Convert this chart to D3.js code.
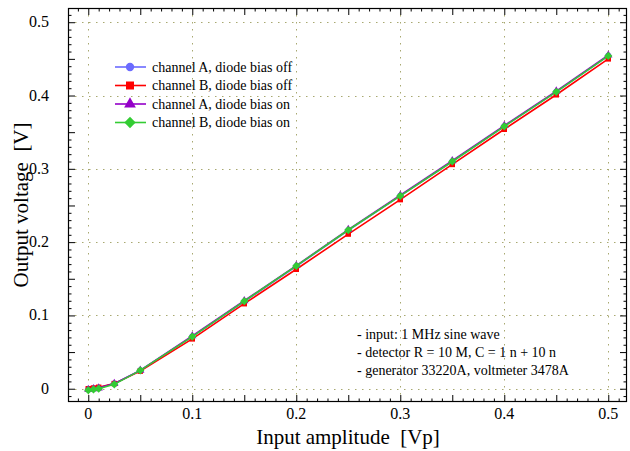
<!DOCTYPE html>
<html>
<head>
<meta charset="utf-8">
<script src="https://cdn.jsdelivr.net/npm/d3@7"></script>
<style>
  body { margin: 0; background: #fff; }
  svg { display: block; }
  svg text { font-family: "Liberation Serif", "DejaVu Serif", serif; }
</style>
</head>
<body>
<script>
// input amplitude [Vp]
const amplitude = [0, 0.005, 0.01, 0.025, 0.05, 0.1, 0.15, 0.2, 0.25, 0.3, 0.35, 0.4, 0.45, 0.5];

// output voltage [V]
const chAoff = [-0.001, 0.000, 0.001, 0.007, 0.025, 0.071, 0.119, 0.167, 0.216, 0.263, 0.310, 0.358, 0.405, 0.454];
const chBoff = [0.000, 0.001, 0.002, 0.007, 0.024, 0.068, 0.116, 0.163, 0.211, 0.258, 0.306, 0.354, 0.401, 0.450];
const chAon = [-0.001, 0.000, 0.001, 0.007, 0.025, 0.072, 0.120, 0.168, 0.217, 0.264, 0.311, 0.359, 0.406, 0.455];
const chBon = [-0.002, -0.001, 0.000, 0.006, 0.025, 0.071, 0.1195, 0.1675, 0.2165, 0.263, 0.310, 0.358, 0.405, 0.454];

const seriesNames = ['channel A, diode bias off', 'channel B, diode bias off', 'channel A, diode bias on', 'channel B, diode bias on'];
const notes = ['- input: 1 MHz sine wave', '- detector R = 10 M, C = 1 n + 10 n', '- generator 33220A, voltmeter 3478A'];

const xLabels = [0, 0.1, 0.2, 0.3, 0.4, 0.5];
const yLabels = [0, 0.1, 0.2, 0.3, 0.4, 0.5];

const width = 630, height = 451;
const mLeft = 68, mRight = 627, mTop = 8, mBottom = 402;

const diamond = { draw(ctx, size) { const r = Math.sqrt(size / 2); ctx.moveTo(0, -r); ctx.lineTo(r, 0); ctx.lineTo(0, r); ctx.lineTo(-r, 0); ctx.closePath(); } };

const series = [
  { name: seriesNames[0], values: chAoff, color: '#6b6bff', symbol: d3.symbolCircle, size: 30, lsize: 55 },
  { name: seriesNames[1], values: chBoff, color: '#ff0000', symbol: d3.symbolSquare, size: 30, lsize: 64 },
  { name: seriesNames[2], values: chAon, color: '#9400c8', symbol: d3.symbolTriangle, size: 30, lsize: 60 },
  { name: seriesNames[3], values: chBon, color: '#33cc33', symbol: diamond, size: 34, lsize: 64 }
];

const x = d3.scaleLinear().domain([-0.0195, 0.518]).range([mLeft, mRight]);
const y = d3.scaleLinear().domain([-0.0181, 0.5194]).range([mBottom, mTop]);

const svg = d3.select('body').append('svg')
  .attr('width', width)
  .attr('height', height)
  .attr('font-family', '"Liberation Serif", "DejaVu Serif", serif');

// grid
const grid = svg.append('g').attr('class', 'grid')
  .attr('stroke', '#a8a870')
  .attr('stroke-width', 1)
  .attr('stroke-dasharray', '1.5,5.5');

grid.selectAll('line.gx').data(xLabels).enter().append('line')
  .attr('x1', d => Math.round(x(d)) + 0.5).attr('x2', d => Math.round(x(d)) + 0.5)
  .attr('y1', mTop).attr('y2', mBottom);

grid.selectAll('line.gy').data(yLabels).enter().append('line')
  .attr('y1', d => Math.round(y(d)) + 0.5).attr('y2', d => Math.round(y(d)) + 0.5)
  .attr('x1', mLeft).attr('x2', mRight);

// ticks on all four sides, pointing inward
const notMajor = v => Math.abs(v / 0.05 - Math.round(v / 0.05)) > 1e-6;
const xMajor = d3.range(0, 0.5001, 0.05);
const xMinor = d3.range(-0.01, 0.5151, 0.01).filter(notMajor);
const yMajor = d3.range(0, 0.5001, 0.05);
const yMinor = d3.range(-0.01, 0.5151, 0.01).filter(notMajor);

const axes = [
  { axis: d3.axisBottom(x), tr: [0, mBottom], vals: xMajor, len: -7 },
  { axis: d3.axisBottom(x), tr: [0, mBottom], vals: xMinor, len: -3.5 },
  { axis: d3.axisTop(x), tr: [0, mTop], vals: xMajor, len: -7 },
  { axis: d3.axisTop(x), tr: [0, mTop], vals: xMinor, len: -3.5 },
  { axis: d3.axisLeft(y), tr: [mLeft, 0], vals: yMajor, len: -7 },
  { axis: d3.axisLeft(y), tr: [mLeft, 0], vals: yMinor, len: -3.5 },
  { axis: d3.axisRight(y), tr: [mRight, 0], vals: yMajor, len: -7 },
  { axis: d3.axisRight(y), tr: [mRight, 0], vals: yMinor, len: -3.5 }
];

axes.forEach(a => {
  const g = svg.append('g')
    .attr('transform', 'translate(' + a.tr[0] + ',' + a.tr[1] + ')')
    .call(a.axis.tickValues(a.vals).tickSize(a.len).tickFormat(''));
  g.select('.domain').remove();
  g.selectAll('line').attr('stroke', '#000').attr('stroke-width', 1);
});

// tick labels
svg.append('g').selectAll('text').data(xLabels).enter().append('text')
  .attr('x', d => x(d))
  .attr('y', mBottom + 17)
  .attr('text-anchor', 'middle')
  .attr('font-size', 16)
  .text(d => d === 0 ? '0' : d3.format('.1f')(d));

svg.append('g').selectAll('text').data(yLabels).enter().append('text')
  .attr('x', mLeft - 19)
  .attr('y', d => y(d) + 5)
  .attr('text-anchor', 'end')
  .attr('font-size', 16)
  .text(d => d === 0 ? '0' : d3.format('.1f')(d));

// axis titles
svg.append('text')
  .attr('x', 348)
  .attr('y', 444)
  .attr('text-anchor', 'middle')
  .attr('font-size', 21)
  .attr('xml:space', 'preserve')
  .text('Input amplitude  [Vp]');

svg.append('text')
  .attr('transform', 'translate(28,205) rotate(-90)')
  .attr('text-anchor', 'middle')
  .attr('font-size', 21)
  .attr('xml:space', 'preserve')
  .text('Output voltage  [V]');

// data
const line = d3.line()
  .x((d, i) => x(amplitude[i]))
  .y(d => y(d));

const plot = svg.append('g');
series.forEach(s => {
  plot.append('path')
    .attr('d', line(s.values))
    .attr('fill', 'none')
    .attr('stroke', s.color)
    .attr('stroke-width', 1.6);
  plot.selectAll(null).data(s.values).enter().append('path')
    .attr('transform', (d, i) => 'translate(' + x(amplitude[i]) + ',' + y(d) + ')')
    .attr('d', d3.symbol().type(s.symbol).size(s.size))
    .attr('fill', s.color);
});

// frame
svg.append('rect')
  .attr('x', mLeft + 0.5).attr('y', mTop + 0.5)
  .attr('width', mRight - mLeft - 1).attr('height', mBottom - mTop - 1)
  .attr('fill', 'none')
  .attr('stroke', '#000')
  .attr('stroke-width', 1.2);

// legend
const legend = svg.append('g').attr('id', 'legend');
series.forEach((s, i) => {
  const ly = 67 + i * 18.5;
  legend.append('line')
    .attr('x1', 115).attr('x2', 146)
    .attr('y1', ly).attr('y2', ly)
    .attr('stroke', s.color)
    .attr('stroke-width', 1.6);
  legend.append('path')
    .attr('transform', 'translate(130,' + ly + ')')
    .attr('d', d3.symbol().type(s.symbol).size(s.lsize))
    .attr('fill', s.color);
  legend.append('text')
    .attr('x', 152)
    .attr('y', ly + 4.5)
    .attr('font-size', 14)
    .text(s.name);
});

// notes
svg.append('g').selectAll('text').data(notes).enter().append('text')
  .attr('x', 357)
  .attr('y', (d, i) => 339 + i * 18)
  .attr('font-size', 14)
  .text(d => d);
</script>
</body>
</html>
